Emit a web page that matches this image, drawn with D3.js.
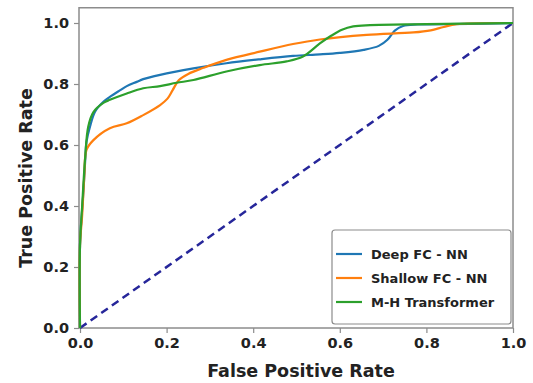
<!DOCTYPE html>
<html lang="en">
<head>
<meta charset="utf-8" />
<title>ROC curves</title>
<script src="https://d3js.org/d3.v7.min.js"></script>
<style>
  body { margin: 0; background: #fff; }
  svg text { font-family: "DejaVu Sans", "Liberation Sans", sans-serif; font-weight: 700; fill: #222; }
</style>
</head>
<body>
<div id="chart"></div>
<script>
// tick labels
var xTicks = [0, 0.2, 0.4, 0.6, 0.8, 1.0];
var yTicks = [0, 0.2, 0.4, 0.6, 0.8, 1.0];

// series names + colours
var seriesNames = ["Deep FC - NN", "Shallow FC - NN", "M-H Transformer"];
var seriesColors = ["#1f77b4", "#ff7f0e", "#2ca02c"];

// [fpr, tpr] points
var deepFC = [[0,0],[0,0.27],[0.003,0.35],[0.008,0.45],[0.012,0.55],[0.015,0.61],[0.023,0.66],[0.035,0.71],
  [0.054,0.742],[0.069,0.758],[0.092,0.779],[0.108,0.793],[0.131,0.807],[0.146,0.816],[0.185,0.83],
  [0.262,0.851],[0.338,0.868],[0.415,0.881],[0.492,0.892],[0.554,0.897],[0.6,0.902],[0.655,0.912],
  [0.69,0.925],[0.71,0.945],[0.727,0.975],[0.746,0.99],[0.78,0.995],[0.9,0.997],[1,1]];
var shallowFC = [[0,0],[0,0.27],[0.005,0.37],[0.01,0.5],[0.015,0.584],[0.031,0.616],[0.069,0.655],
  [0.108,0.671],[0.146,0.698],[0.185,0.731],[0.202,0.752],[0.214,0.78],[0.228,0.812],[0.25,0.833],
  [0.285,0.853],[0.338,0.879],[0.415,0.906],[0.492,0.931],[0.554,0.946],[0.662,0.961],[0.77,0.969],
  [0.81,0.976],[0.84,0.987],[0.87,0.996],[1,1]];
var mhTransformer = [[0,0],[0,0.27],[0.005,0.4],[0.012,0.56],[0.019,0.66],[0.031,0.708],[0.054,0.738],
  [0.069,0.748],[0.108,0.769],[0.146,0.786],[0.185,0.793],[0.223,0.804],[0.262,0.813],[0.338,0.841],
  [0.415,0.862],[0.477,0.874],[0.515,0.89],[0.554,0.933],[0.58,0.958],[0.605,0.978],[0.631,0.989],
  [0.67,0.993],[0.8,0.996],[1,1]];
var chance = [[0,0],[1,1]];

var allSeries = [deepFC, shallowFC, mhTransformer];

var width = 533, height = 383;

var x = d3.scaleLinear().domain([0, 1]).range([80, 513]);
var y = d3.scaleLinear().domain([0, 1.05]).range([328, 7.75]);

var svg = d3.select("#chart").append("svg")
  .attr("width", width)
  .attr("height", height);

// plot frame
svg.append("rect")
  .attr("x", x(0) - 1).attr("y", y(1.05))
  .attr("width", x(1) - x(0) + 1).attr("height", y(0) - y(1.05))
  .attr("fill", "none")
  .attr("stroke", "#8c8c8c")
  .attr("stroke-width", 1.5);

// axes
var xAxis = d3.axisBottom(x).tickValues(xTicks).tickFormat(d3.format(".1f")).tickSize(5).tickPadding(5);
var yAxis = d3.axisLeft(y).tickValues(yTicks).tickFormat(d3.format(".1f")).tickSize(5).tickPadding(5);

var gx = svg.append("g").attr("transform", "translate(0," + y(0) + ")").call(xAxis);
var gy = svg.append("g").attr("transform", "translate(" + (x(0) - 1) + ",0)").call(yAxis);

[gx, gy].forEach(function(g) {
  g.select(".domain").remove();
  g.selectAll(".tick line").attr("stroke", "#8c8c8c").attr("stroke-width", 1.2);
  g.selectAll(".tick text").style("font-size", "14.5px").attr("fill", "#222");
});

// chance diagonal
var line = d3.line()
  .x(function(d) { return x(d[0]); })
  .y(function(d) { return y(d[1]); });

svg.append("path")
  .datum(chance)
  .attr("d", line)
  .attr("fill", "none")
  .attr("stroke", "#26269a")
  .attr("stroke-width", 2.5)
  .attr("stroke-dasharray", "8,5");

// roc curves
var smooth = d3.line()
  .x(function(d) { return x(d[0]); })
  .y(function(d) { return y(d[1]); })
  .curve(d3.curveCatmullRom.alpha(0.5));

allSeries.forEach(function(s, i) {
  svg.append("path")
    .datum(s)
    .attr("d", smooth)
    .attr("fill", "none")
    .attr("stroke", seriesColors[i])
    .attr("stroke-width", 2.2);
});

// legend
var legend = svg.append("g");
legend.append("rect")
  .attr("x", 332).attr("y", 230)
  .attr("width", 179).attr("height", 94)
  .attr("rx", 3)
  .attr("fill", "#fff")
  .attr("stroke", "#8c8c8c")
  .attr("stroke-width", 1.2);

seriesNames.forEach(function(name, i) {
  var ly = 254 + i * 24;
  legend.append("line")
    .attr("x1", 336).attr("x2", 362)
    .attr("y1", ly).attr("y2", ly)
    .attr("stroke", seriesColors[i])
    .attr("stroke-width", 2.2);
  legend.append("text")
    .attr("x", 371).attr("y", ly)
    .attr("dy", "0.35em")
    .style("font-size", "13px")
    .text(name);
});

// axis titles
svg.append("text")
  .attr("x", 301).attr("y", 377)
  .attr("text-anchor", "middle")
  .style("font-size", "17.5px")
  .text("False Positive Rate");

svg.append("text")
  .attr("transform", "translate(32,178) rotate(-90)")
  .attr("text-anchor", "middle")
  .style("font-size", "17.5px")
  .text("True Positive Rate");
</script>
</body>
</html>
